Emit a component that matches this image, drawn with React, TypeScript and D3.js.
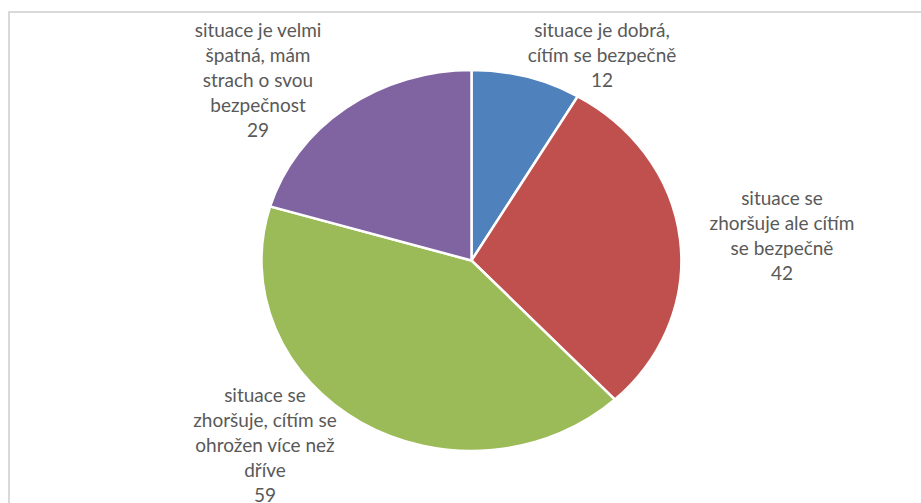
import * as d3 from "d3";

const categories = [
  ["situace je dobrá,", "cítím se bezpečně"],
  ["situace se", "zhoršuje ale cítím", "se bezpečně"],
  ["situace se", "zhoršuje, cítím se", "ohrožen více než", "dříve"],
  ["situace je velmi", "špatná, mám", "strach o svou", "bezpečnost"],
];
const values = [12, 42, 59, 29];
const colors = ["#4F81BD", "#C0504D", "#9BBB59", "#8064A2"];

const W = 921;
const H = 503;
const CX = 471.5;
const CY = 260.5;
const RX = 210;
const RY = 190.5;
const LINE_H = 25;

// label block centres (x) and first-line baselines (y), Excel "best fit" placement
const labelAnchors: [number, number][] = [
  [602, 37],
  [782, 205],
  [265, 402],
  [258, 37],
];

export default function App() {
  const pie = d3
    .pie<number>()
    .sort(null)
    .startAngle(0)
    .endAngle(2 * Math.PI);
  const arcs = pie(values);
  const arc = d3.arc<d3.PieArcDatum<number>>().innerRadius(0).outerRadius(1);

  return (
    <svg
      width={W}
      height={H}
      style={{ position: "absolute", left: 0, top: 0, background: "#fff" }}
      fontFamily="Lato, 'Open Sans', sans-serif"
    >
      <rect x={0} y={0} width={W} height={H} fill="#fff" />
      <line x1={8} x2={W} y1={12} y2={12} stroke="#d9d9d9" strokeWidth={2} />
      <line x1={9} x2={9} y1={11} y2={H} stroke="#d9d9d9" strokeWidth={2} />
      <g transform={`translate(${CX},${CY}) scale(${RX},${RY})`}>
        {arcs.map((a, i) => (
          <path
            key={i}
            d={arc(a) || ""}
            fill={colors[i]}
            stroke="#fff"
            strokeWidth={2.5}
            vectorEffect="non-scaling-stroke"
          />
        ))}
      </g>
      {arcs.map((a, i) => {
        const [lx, ly] = labelAnchors[i];
        const lines = [...categories[i], String(values[i])];
        return (
          <text
            key={i}
            x={lx}
            y={ly}
            textAnchor="middle"
            fill="#595959"
            fontSize={19}
          >
            {lines.map((t, j) => (
              <tspan key={j} x={lx} y={ly + j * LINE_H}>
                {t}
              </tspan>
            ))}
          </text>
        );
      })}
    </svg>
  );
}
